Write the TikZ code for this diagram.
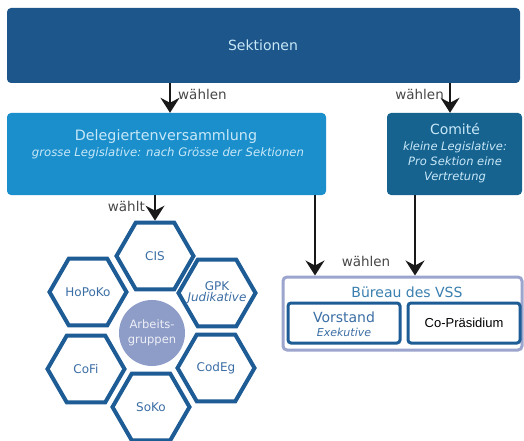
\documentclass[tikz,border=0pt]{standalone}
\usepackage{fontspec}
\setmainfont{DejaVu Sans}
\newfontfamily\arialf{Liberation Sans}
\usetikzlibrary{arrows.meta,shapes.geometric}
\definecolor{sekblue}{RGB}{28,86,138}
\definecolor{dvblue}{RGB}{26,143,204}
\definecolor{comblue}{RGB}{22,99,144}
\definecolor{hexblue}{RGB}{30,92,150}
\definecolor{hextext}{RGB}{59,110,165}
\definecolor{burborder}{RGB}{155,165,205}
\definecolor{burtitle}{RGB}{58,127,176}
\definecolor{circfill}{RGB}{142,156,200}
\definecolor{lighttext}{RGB}{200,232,248}
\newcommand{\zw}[1]{\hbox to 0pt{\hss#1\hss}}
\tikzset{
  box/.style={rectangle, rounded corners=4pt, inner sep=0pt},
  arr/.style={line width=1.7pt, draw=black!90, -{Stealth[length=15pt,width=19pt,inset=5pt]}},
  lbl/.style={font=\fontsize{13.5}{15}\selectfont, text=black!72, inner sep=0pt},
  hexa/.style={regular polygon, regular polygon sides=6, minimum size=77pt, inner sep=0pt,
    draw=hexblue, line width=4pt, fill=white, text=hextext, font=\fontsize{12}{14}\selectfont},
  inner/.style={rectangle, rounded corners=3pt, draw=hexblue, line width=3pt, fill=white,
    minimum width=112pt, minimum height=40pt, inner sep=0pt}
}
\begin{document}
\begin{tikzpicture}[x=1pt,y=-1pt]
\useasboundingbox (0,0) rectangle (524,441);
% top box
\node[box, fill=sekblue, minimum width=513pt, minimum height=75pt] (sek) at (263.5,45.5) {};
\node[text=lighttext, font=\fontsize{14}{16}\selectfont] (sektxt) at (263,45) {Sektionen};
% Delegiertenversammlung
\node[box, fill=dvblue, minimum width=319pt, minimum height=82pt] (dv) at (166.5,154) {};
\node[text=lighttext, font=\fontsize{14.3}{16}\selectfont, inner sep=0pt] (dvt) at (166,137) {Delegiertenversammlung};
\node[text=lighttext, font=\fontsize{11.7}{14}\itshape\selectfont, inner sep=0pt] (dvs) at (168,153) {grosse Legislative: nach Grösse der Sektionen};
% Comite
\node[box, fill=comblue, minimum width=135pt, minimum height=82pt] (com) at (454.5,154) {};
\node[text=lighttext, font=\fontsize{14}{16}\selectfont, inner sep=0pt] (comt) at (455,129) {Comité};
\node[text=lighttext, font=\fontsize{11.5}{15}\itshape\selectfont, inner sep=0pt, align=center] (coms) at (455,162) {kleine Legislative:\\Pro Sektion eine\\Vertretung};
% arrows from Sektionen
\draw[arr] (sek.south -| 170,0) -- (dv.north -| 170,0);
\node[lbl, anchor=west] (w1) at (178,94) {wählen};
\draw[arr] (sek.south -| 450,0) -- (com.north -| 450,0);
\node[lbl, anchor=east] (w2) at (444,94) {wählen};
% Buereau
\node[box, draw=burborder, line width=3pt, fill=white, minimum width=239pt, minimum height=73pt] (bur) at (402.5,313.5) {};
\node[text=burtitle, font=\fontsize{14}{16}\selectfont, inner sep=0pt] (burt) at (407,292) {Büreau des VSS};
\node[inner] (vor) at (344,323) {};
\node[text=hextext, font=\fontsize{14}{16}\selectfont, inner sep=0pt] (vort) at (344,317) {Vorstand};
\node[text=hextext, font=\fontsize{11}{13}\itshape\selectfont, inner sep=0pt] (vors) at (344,332) {Exekutive};
\node[inner] (cop) at (464,323) {\arialf\fontsize{13}{15}\selectfont Co-Präsidium};
% arrows to Buereau
\draw[arr] (dv.south -| 315,0) -- (bur.north -| 315,0);
\draw[arr] (com.south -| 415,0) -- (bur.north -| 415,0);
\node[lbl] (w3) at (366,261) {wählen};
% hexagons
\node[circle, fill=circfill, minimum size=66pt, inner sep=0pt, text=white!85!circfill, font=\fontsize{11.5}{15}\selectfont, align=center] (ag) at (152,333) {Arbeits-\\gruppen};
\node[hexa] (cis) at (155,256) {CIS};
\node[hexa] (hop) at (88,292) {HoPoKo};
\node[hexa] (gpk) at (217,293) {\zw{\begin{tabular}{@{}c@{}}GPK\\[-3pt]\itshape Judikative\end{tabular}}};
\node[hexa] (cofi) at (86,369) {CoFi};
\node[hexa] (cod) at (216,368) {CodEg};
\node[hexa] (soko) at (151,407) {SoKo};
\draw[arr] (dv.south -| cis.north) -- (cis.north);
\node[lbl, anchor=east] (w4) at (145,206) {wählt};
\end{tikzpicture}
\end{document}
